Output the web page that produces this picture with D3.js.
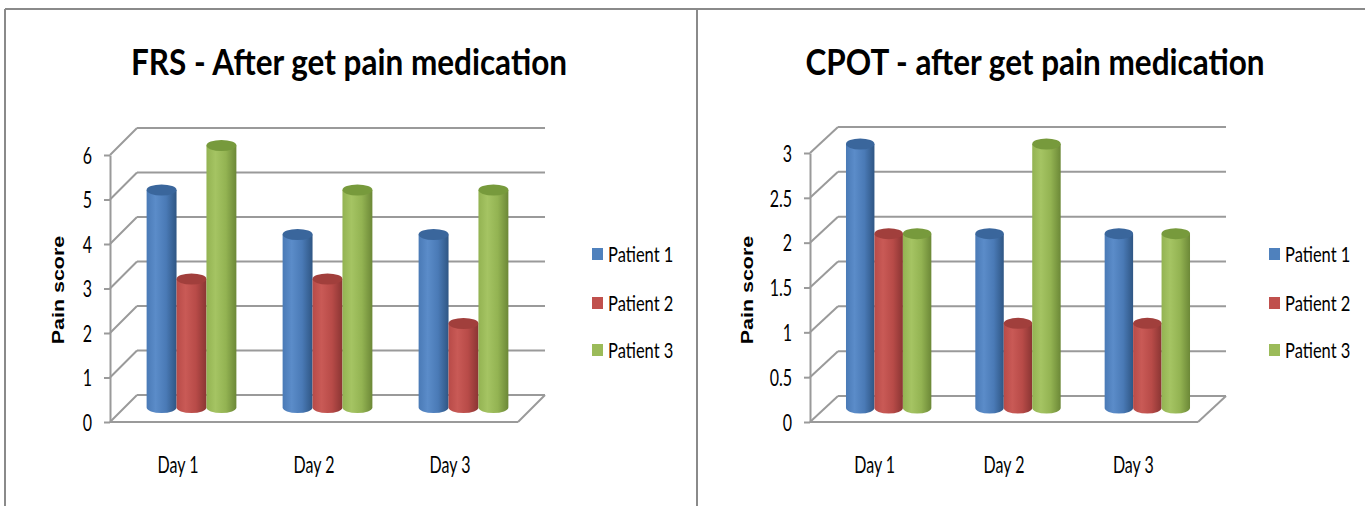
<!DOCTYPE html>
<html>
<head>
<meta charset="utf-8">
<script src="https://cdn.jsdelivr.net/npm/d3@7"></script>
<style>
  body { margin: 0; background: #fff; }
  svg { display: block; }
</style>
</head>
<body>
<div id="wrapper"></div>
<script>
// data
const days = ["Day 1", "Day 2", "Day 3"];
const patients = ["Patient 1", "Patient 2", "Patient 3"];
// one row per day: patient 1, patient 2, patient 3
const frsScores = [[5, 3, 6], [4, 3, 5], [4, 2, 5]];
const cpotScores = [[3, 2, 2], [2, 1, 3], [2, 1, 2]];
const frsTicks = [0, 1, 2, 3, 4, 5, 6];
const cpotTicks = [0, 0.5, 1, 1.5, 2, 2.5, 3];
const frsTitle = "FRS - After get pain medication";
const cpotTitle = "CPOT - after get pain medication";
const yTitle = "Pain score";

const colors = [
    { light: "#5b8cc9", mid: "#4a7ab6", dark: "#2f5684", top: "#3a669c" },
    { light: "#c95a56", mid: "#b84b48", dark: "#8a3533", top: "#a13f3c" },
    { light: "#a5c463", mid: "#93b352", dark: "#6c8837", top: "#779a3c" }
];
const legendColors = ["#4f81bd", "#c0504d", "#9bbb59"];

const font = "Lato, 'Liberation Sans', sans-serif";
const gridColor = "#9a9a9a";

const svg = d3.select("#wrapper").append("svg")
    .attr("width", 1365)
    .attr("height", 506);

const defs = svg.append("defs");
colors.forEach((c, i) => {
    const g = defs.append("linearGradient")
        .attr("id", "cyl" + i)
        .attr("x1", "0%").attr("x2", "100%")
        .attr("y1", "0%").attr("y2", "0%");
    g.append("stop").attr("offset", "0%").attr("stop-color", c.mid);
    g.append("stop").attr("offset", "30%").attr("stop-color", c.light);
    g.append("stop").attr("offset", "65%").attr("stop-color", c.mid);
    g.append("stop").attr("offset", "100%").attr("stop-color", c.dark);
});

// outer frames
svg.append("line").attr("x1", 5).attr("x2", 1365).attr("y1", 9).attr("y2", 9)
    .attr("stroke", "#8a8a8a").attr("stroke-width", 2);
svg.append("line").attr("x1", 5).attr("x2", 5).attr("y1", 9).attr("y2", 506)
    .attr("stroke", "#8a8a8a").attr("stroke-width", 2);
svg.append("line").attr("x1", 697).attr("x2", 697).attr("y1", 9).attr("y2", 506)
    .attr("stroke", "#8a8a8a").attr("stroke-width", 2);

function drawChart(cfg) {
    const g = svg.append("g");

    const yScale = d3.scaleLinear()
        .domain([0, d3.max(cfg.ticks)])
        .range([cfg.y0, cfg.yTop]);

    const xScale = d3.scaleBand()
        .domain(days)
        .range([cfg.x0, cfg.x1])
        .paddingInner(0.34)
        .paddingOuter(0.17);

    const innerScale = d3.scaleBand()
        .domain(patients)
        .range([0, xScale.bandwidth()]);

    const dx = cfg.dx, dy = cfg.dy;

    // back wall gridlines + side wall diagonals
    cfg.ticks.forEach(t => {
        g.append("line")
            .attr("x1", cfg.x0 + dx).attr("x2", cfg.x1 + dx)
            .attr("y1", yScale(t) - dy).attr("y2", yScale(t) - dy)
            .attr("stroke", gridColor).attr("stroke-width", 2);
        g.append("line")
            .attr("x1", cfg.x0).attr("x2", cfg.x0 + dx)
            .attr("y1", yScale(t)).attr("y2", yScale(t) - dy)
            .attr("stroke", gridColor).attr("stroke-width", 2);
    });
    // floor front edge and right edge
    g.append("line")
        .attr("x1", cfg.x0).attr("x2", cfg.x1)
        .attr("y1", cfg.y0).attr("y2", cfg.y0)
        .attr("stroke", gridColor).attr("stroke-width", 2);
    g.append("line")
        .attr("x1", cfg.x1).attr("x2", cfg.x1 + dx)
        .attr("y1", cfg.y0).attr("y2", cfg.y0 - dy)
        .attr("stroke", gridColor).attr("stroke-width", 2);

    // y axis
    const yAxis = d3.axisLeft(yScale)
        .tickValues(cfg.ticks)
        .tickFormat(d => String(d))
        .tickSize(6)
        .tickSizeOuter(0)
        .tickPadding(cfg.tickPad);
    const axisG = g.append("g")
        .attr("transform", `translate(${cfg.x0}, 0)`)
        .call(yAxis);
    axisG.select(".domain").attr("stroke", gridColor).attr("stroke-width", 2);
    axisG.selectAll(".tick line").attr("stroke", gridColor).attr("stroke-width", 2);
    axisG.selectAll(".tick text")
        .attr("fill", "#000")
        .style("font-family", font)
        .style("font-size", "16px")
        .attr("dy", "0.36em")
        .attr("transform", "scale(1,1.42)");

    // cylinders
    const baseY = cfg.y0 - dy / 2 - 1;
    days.forEach((day, di) => {
        patients.forEach((p, pi) => {
            const v = cfg.values[di][pi];
            const w = innerScale.bandwidth();
            const xl = xScale(day) + innerScale(p) + dx / 2;
            const rx = w / 2, ry = 5.5;
            const topY = yScale(v) - dy / 2 + 4;
            g.append("path")
                .attr("d", `M${xl},${topY} L${xl},${baseY} A${rx},${ry} 0 0 0 ${xl + w},${baseY} L${xl + w},${topY} Z`)
                .attr("fill", `url(#cyl${pi})`);
            g.append("ellipse")
                .attr("cx", xl + rx).attr("cy", topY)
                .attr("rx", rx).attr("ry", ry)
                .attr("fill", colors[pi].top);
        });
    });

    // category labels
    g.selectAll(".day")
        .data(days)
        .join("text")
        .attr("text-anchor", "middle")
        .attr("transform", d => `translate(${xScale(d) + xScale.bandwidth() / 2}, 473) scale(1,1.42)`)
        .style("font-family", font)
        .style("font-size", "16px")
        .attr("fill", "#000")
        .text(d => d);

    // title
    g.append("text")
        .attr("text-anchor", "middle")
        .attr("transform", `translate(${cfg.titleX}, 75) scale(1,1.15)`)
        .style("font-family", font)
        .style("font-weight", "bold")
        .style("font-size", "31.5px")
        .attr("fill", "#000")
        .text(cfg.title);

    // y axis title
    g.append("text")
        .attr("text-anchor", "middle")
        .attr("transform", `translate(${cfg.yTitleX}, 290) rotate(-90) scale(1.3,1)`)
        .style("font-family", "'Liberation Sans', Arial, sans-serif")
        .style("font-weight", "bold")
        .style("font-size", "16.5px")
        .attr("fill", "#000")
        .text(yTitle);

    // legend
    const legend = g.selectAll(".legend")
        .data(patients)
        .join("g")
        .attr("transform", (d, i) => `translate(${cfg.legendX}, ${[254, 303, 350][i]})`);
    legend.append("rect")
        .attr("x", 0).attr("y", -6)
        .attr("width", 11).attr("height", 12)
        .attr("fill", (d, i) => legendColors[i]);
    legend.append("text")
        .attr("transform", "translate(16, 7.5) scale(1,1.3)")
        .style("font-family", font)
        .style("font-size", "16.5px")
        .attr("fill", "#000")
        .text(d => d);
}

drawChart({
    values: frsScores, ticks: frsTicks, title: frsTitle,
    x0: 110, x1: 518, y0: 422, yTop: 155, dx: 27, dy: 27,
    tickPad: 12, titleX: 349, yTitleX: 64, legendX: 592
});

drawChart({
    values: cpotScores, ticks: cpotTicks, title: cpotTitle,
    x0: 810, x1: 1198, y0: 422, yTop: 153, dx: 28, dy: 26,
    tickPad: 12, titleX: 1035, yTitleX: 753, legendX: 1269
});
</script>
</body>
</html>
